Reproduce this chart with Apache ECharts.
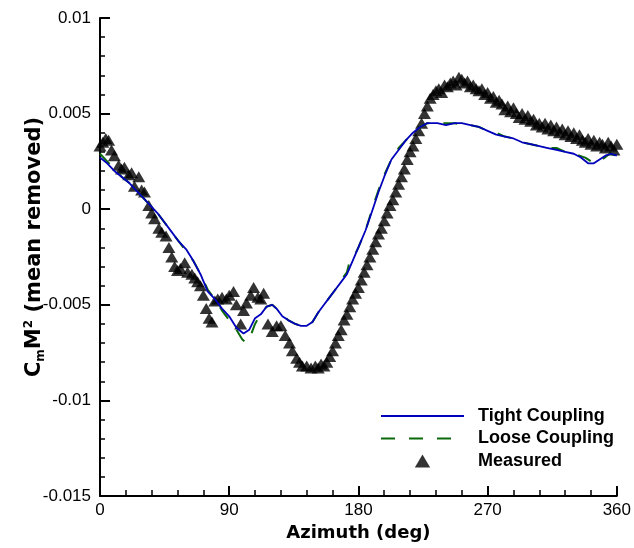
<!DOCTYPE html>
<html>
<head>
<meta charset="utf-8">
<script src="https://cdn.jsdelivr.net/npm/echarts@6/dist/echarts.min.js"></script>
<style>
html,body{margin:0;padding:0;background:#fff;}
#chart{width:634px;height:548px;}
</style>
</head>
<body>
<div id="chart"></div>
<script>
// ---- data ----
const xTickLabels = ['0', '90', '180', '270', '360'];
const yTickLabels = ['-0.015', '-0.01', '-0.005', '0', '0.005', '0.01'];

const tightAz = [0,5,10,15,20,25,30,35,40,45,50,55,60,65,70,75,80,85,90,95,100,104,108,112,116,120,123,127,131,136,140,144,148,152,156,160,164,168,172,176,180,185,190,194,198,203,208,213,218,223,228,235,241,247,252,258,264,270,276,282,288,294,300,306,312,318,324,330,335,340,344,348,352,356,360];
const tightVal = [0.0027,0.0024,0.0020,0.0017,0.0014,0.0010,0.0006,0.0002,-0.0002,-0.0007,-0.0012,-0.0017,-0.0021,-0.0027,-0.0034,-0.0043,-0.0047,-0.0052,-0.0056,-0.0062,-0.0065,-0.0063,-0.0057,-0.0055,-0.0051,-0.0050,-0.0052,-0.0056,-0.0058,-0.0060,-0.0061,-0.0061,-0.0059,-0.0054,-0.0050,-0.0046,-0.0042,-0.0038,-0.0034,-0.0027,-0.0020,-0.0011,0.0000,0.0009,0.0017,0.0026,0.0031,0.0036,0.0040,0.0043,0.0045,0.0045,0.0044,0.0045,0.0045,0.0044,0.0043,0.0041,0.0039,0.0038,0.0037,0.0035,0.0034,0.0033,0.0032,0.0031,0.0030,0.0029,0.0027,0.0024,0.0024,0.0026,0.0028,0.0029,0.0028];

const looseAz = [0,5,10,15,20,25,30,35,40,45,50,55,60,65,70,75,80,85,90,95,99,102,105,108,111,116,120,123,127,131,136,140,144,148,152,156,160,164,168,172,174,176,180,185,190,194,198,203,208,213,218,223,228,235,241,247,252,258,264,270,276,282,288,294,300,306,312,318,324,330,334,338,342,346,350,355,360];
const looseVal = [0.0029,0.0025,0.0021,0.0017,0.0014,0.0010,0.0006,0.0002,-0.0002,-0.0007,-0.0012,-0.0017,-0.0022,-0.0027,-0.0034,-0.0042,-0.0047,-0.0053,-0.0058,-0.0063,-0.0068,-0.0070,-0.0066,-0.0060,-0.0056,-0.0051,-0.0050,-0.0052,-0.0055,-0.0058,-0.0060,-0.0061,-0.0061,-0.0059,-0.0054,-0.0050,-0.0046,-0.0042,-0.0037,-0.0033,-0.0027,-0.0026,-0.0020,-0.0011,0.0001,0.0010,0.0018,0.0026,0.0032,0.0036,0.0040,0.0043,0.0045,0.0045,0.0045,0.0045,0.0044,0.0044,0.0043,0.0041,0.0040,0.0038,0.0037,0.0035,0.0034,0.0033,0.0032,0.0032,0.0030,0.0029,0.0028,0.0027,0.0025,0.0024,0.0026,0.0029,0.0028];

const measAz = [0,2,4,6,8,10,13,15,17,20,22,24,27,29,31,34,36,38,41,43,46,48,50,52,54,56,59,61,64,66,68,70,72,74,76,78,80,82,85,88,90,93,95,98,100,102,105,107,110,112,114,117,120,123,126,129,132,134,137,139,141,144,147,150,152,154,156,158,160,162,164,166,168,170,172,174,176,178,180,182,184,186,188,190,192,194,196,198,200,202,204,206,208,210,212,214,216,218,220,222,224,226,228,230,232,234,236,238,240,242,244,246,248,250,252,254,256,258,260,262,264,266,268,270,272,274,276,278,280,282,284,286,288,290,292,294,296,298,300,302,304,306,308,310,312,314,316,318,320,322,324,326,328,330,332,334,336,338,340,342,344,346,348,350,352,354,356,358,360];
const measVal = [0.0033,0.0035,0.0037,0.0036,0.0031,0.0028,0.0023,0.0021,0.0022,0.0018,0.0019,0.0012,0.0017,0.0010,0.0009,0.0002,-0.0002,-0.0005,-0.0010,-0.0012,-0.0014,-0.0020,-0.0025,-0.0030,-0.0032,-0.0031,-0.0028,-0.0033,-0.0034,-0.0036,-0.0038,-0.0040,-0.0045,-0.0052,-0.0057,-0.0059,-0.0048,-0.0047,-0.0046,-0.0047,-0.0045,-0.0043,-0.0050,-0.0060,-0.0053,-0.0049,-0.0045,-0.0041,-0.0046,-0.0047,-0.0044,-0.0060,-0.0064,-0.0061,-0.0061,-0.0066,-0.0070,-0.0074,-0.0078,-0.0080,-0.0082,-0.0082,-0.0083,-0.0082,-0.0083,-0.0081,-0.0082,-0.0080,-0.0077,-0.0074,-0.0070,-0.0066,-0.0063,-0.0058,-0.0055,-0.0051,-0.0047,-0.0044,-0.0041,-0.0037,-0.0033,-0.0029,-0.0025,-0.0021,-0.0017,-0.0013,-0.0010,-0.0006,-0.0002,0.0002,0.0005,0.0009,0.0013,0.0017,0.0021,0.0026,0.0030,0.0033,0.0037,0.0041,0.0045,0.0050,0.0054,0.0058,0.0060,0.0062,0.0063,0.0061,0.0065,0.0064,0.0066,0.0067,0.0065,0.0069,0.0068,0.0066,0.0067,0.0064,0.0065,0.0063,0.0062,0.0063,0.0060,0.0061,0.0058,0.0059,0.0056,0.0057,0.0055,0.0052,0.0054,0.0051,0.0053,0.0050,0.0048,0.0050,0.0047,0.0049,0.0046,0.0047,0.0044,0.0045,0.0043,0.0045,0.0042,0.0044,0.0041,0.0043,0.0040,0.0042,0.0039,0.0041,0.0038,0.0040,0.0037,0.0039,0.0036,0.0035,0.0037,0.0034,0.0036,0.0033,0.0035,0.0034,0.0032,0.0035,0.0033,0.0031,0.0034];

const seriesNames = ['Tight Coupling', 'Loose Coupling', 'Measured'];

// ---- chart ----
const zip = (a, b) => a.map((v, i) => [v, b[i]]);
const yMin = -0.015, yMax = 0.01, yStep = 0.005;
const xMin = 0, xMax = 360, xStep = 90;

const chart = echarts.init(document.getElementById('chart'), null, {renderer: 'canvas'});
chart.setOption({
  animation: false,
  backgroundColor: '#ffffff',
  grid: {left: 100, right: 15, top: 18, bottom: 52},
  xAxis: {
    type: 'value', min: xMin, max: xMax, interval: xStep,
    axisLine: {onZero: false, lineStyle: {color: '#000', width: 2}},
    axisTick: {inside: true, length: 10, lineStyle: {color: '#000', width: 2}},
    minorTick: {show: true, splitNumber: 5, length: 6, lineStyle: {color: '#000', width: 1.5}},
    splitLine: {show: false},
    axisLabel: {
      margin: 6, color: '#000', fontFamily: 'Liberation Sans', fontSize: 17,
      formatter: v => xTickLabels[Math.round((v - xMin) / xStep)]
    },
    name: 'Azimuth (deg)', nameLocation: 'middle', nameGap: 22,
    nameTextStyle: {color: '#000', fontFamily: 'DejaVu Sans', fontWeight: 'bold', fontSize: 18}
  },
  yAxis: {
    type: 'value', min: yMin, max: yMax, interval: yStep,
    axisLine: {lineStyle: {color: '#000', width: 2}},
    axisTick: {inside: true, length: 10, lineStyle: {color: '#000', width: 2}},
    minorTick: {show: true, splitNumber: 5, length: 5, lineStyle: {color: '#000', width: 1.5}},
    splitLine: {show: false},
    axisLabel: {
      margin: 9, color: '#000', fontFamily: 'Liberation Sans', fontSize: 17,
      formatter: v => yTickLabels[Math.round((v - yMin) / yStep)]
    },
    name: '{a|C}{s|m}{a|M}{p|2}{a| (mean removed)}',
    nameLocation: 'middle', nameRotate: 90, nameGap: 53,
    nameMoveOverlap: false,
    nameTextStyle: {
      color: '#000',
      padding: [0, 0, 0, 20],
      rich: {
        a: {fontFamily: 'DejaVu Sans', fontWeight: 'bold', fontSize: 21, color: '#000', lineHeight: 24},
        s: {fontFamily: 'DejaVu Sans', fontWeight: 'bold', fontSize: 12, color: '#000', verticalAlign: 'bottom', lineHeight: 24},
        p: {fontFamily: 'DejaVu Sans', fontWeight: 'bold', fontSize: 12, color: '#000', verticalAlign: 'top', lineHeight: 24}
      }
    }
  },
  legend: {
    data: [
      {name: seriesNames[0], itemStyle: {opacity: 0, borderWidth: 0}},
      {name: seriesNames[1], itemStyle: {opacity: 0, borderWidth: 0}},
      {name: seriesNames[2], icon: 'path://M0,11L6.5,0L13,11Z'}
    ],
    orient: 'vertical', left: 380, top: 407, padding: 0,
    itemWidth: 83, itemHeight: 13, itemGap: 4.5,
    textStyle: {fontFamily: 'Liberation Sans', fontWeight: 'bold', fontSize: 18, color: '#000', padding: [0, 0, 0, 9]}
  },
  series: [
    {
      name: seriesNames[2], type: 'scatter', z: 2,
      symbol: 'triangle', symbolSize: [13, 11],
      itemStyle: {color: '#000'},
      data: zip(measAz, measVal)
    },
    {
      name: seriesNames[1], type: 'line', z: 3, symbol: 'none',
      lineStyle: {color: '#0b6b0b', width: 2, type: [14, 14]},
      itemStyle: {color: '#0b6b0b'},
      data: zip(looseAz, looseVal)
    },
    {
      name: seriesNames[0], type: 'line', z: 4, symbol: 'none',
      lineStyle: {color: '#0000bb', width: 1.8},
      itemStyle: {color: '#0000bb'},
      data: zip(tightAz, tightVal)
    }
  ]
});
</script>
</body>
</html>
